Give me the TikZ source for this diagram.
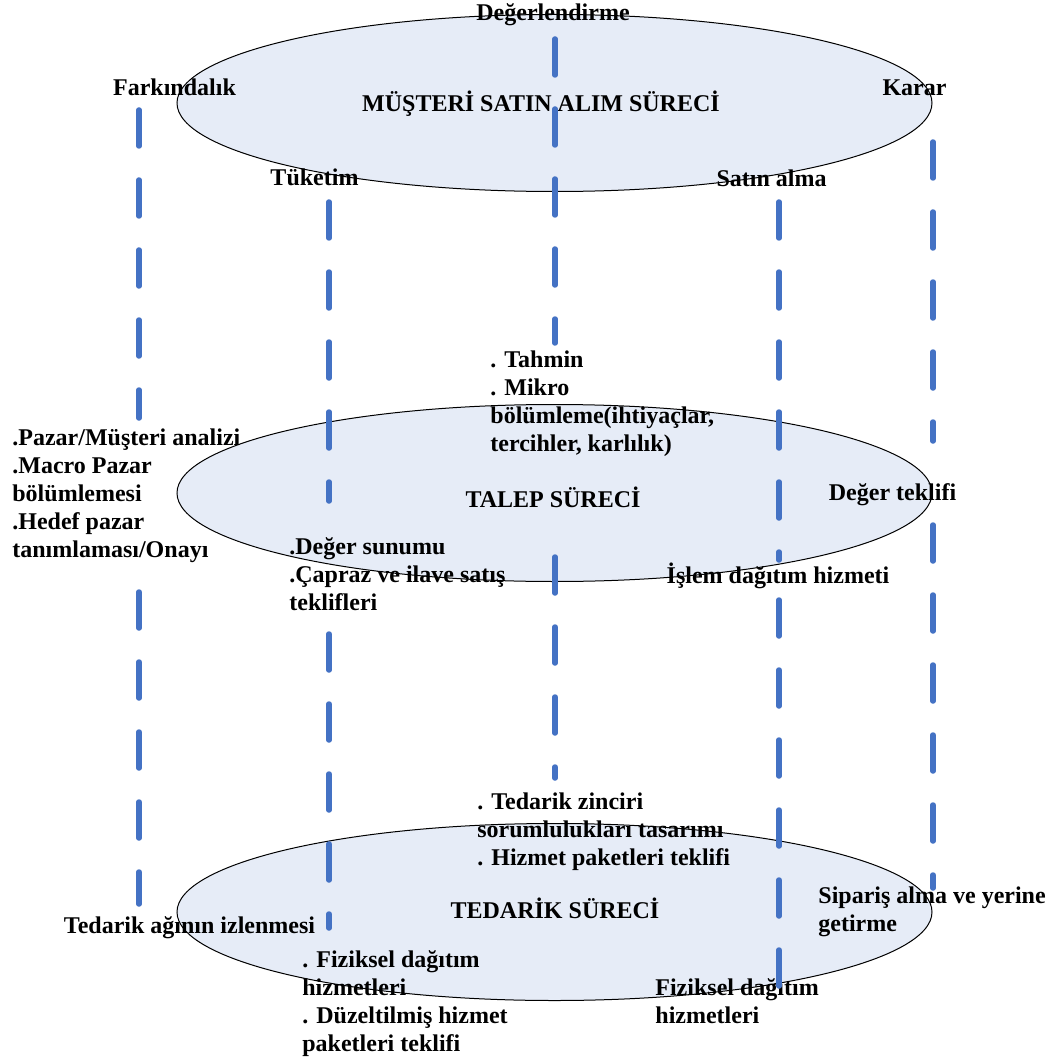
\documentclass[tikz,border=0pt]{standalone}
\usepackage{fontspec}
\setmainfont{Liberation Serif}
\usetikzlibrary{shapes.geometric}
\definecolor{procfill}{HTML}{E6ECF7}
\definecolor{linkblue}{HTML}{4472C4}
\begin{document}
\begin{tikzpicture}[x=0.5pt,y=-0.5pt,
  proc/.style={ellipse, draw=black, line width=0.5pt, fill=procfill,
    minimum width=377.5pt, minimum height=88.5pt, inner sep=0pt},
  lbl/.style={inner sep=0pt, font=\fontsize{12}{14}\selectfont\bfseries, anchor=base},
  blk/.style={inner sep=0pt, font=\fontsize{12}{14}\selectfont\bfseries,
    align=left, anchor=north west},
  link/.style={draw=linkblue, line width=2.75pt, line cap=round,
    dash pattern=on 18pt off 17pt}]
\useasboundingbox (0,0) rectangle (1049,1059);

% the three process ellipses
\node[proc] (musteri) at (554.5,103) {};
\node[proc] (talep)   at (554.5,493) {};
\node[proc] (tedarik) at (554.5,912) {};

% process titles
\node[lbl] (tmusteri) at (541,112) {MÜŞTERİ SATIN ALIM SÜRECİ};
\node[lbl] (ttalep)   at (553,507) {TALEP SÜRECİ};
\node[lbl] (ttedarik) at (555,918) {TEDARİK SÜRECİ};

% stage labels of the purchase process
\node[lbl] (deger)   at (553,21)    {Değerlendirme};
\node[lbl] (fark)    at (174.5,96)  {Farkındalık};
\node[lbl] (karar)   at (914.5,96)  {Karar};
\node[lbl] (tuketim) at (314.5,186) {Tüketim};
\node[lbl] (satin)   at (771.5,187) {Satın alma};

% demand process activities
\node[blk] (tahmin) at (490,347.4) {\strut. Tahmin\\. Mikro\\bölümleme(ihtiyaçlar,\\tercihler, karlılık)};
\node[blk] (pazar) at (12,425.4) {\strut.Pazar/Müşteri analizi\\.Macro Pazar\\bölümlemesi\\.Hedef pazar\\tanımlaması/Onayı};
\node[lbl] (teklif) at (892.5,500) {Değer teklifi};
\node[blk] (sunum) at (289,534.4) {\strut.Değer sunumu\\.Çapraz ve ilave satış\\teklifleri};
\node[lbl] (islem) at (778,583) {İşlem dağıtım hizmeti};

% supply process activities
\node[blk] (zincir) at (477,789.4) {\strut. Tedarik zinciri\\sorumlulukları tasarımı\\. Hizmet paketleri teklifi};
\node[blk] (siparis) at (818,883.4) {\strut Sipariş alma ve yerine\\getirme};
\node[lbl] (izleme) at (189.5,933) {Tedarik ağının izlenmesi};
\node[blk] (fizikA) at (302,947.4) {\strut. Fiziksel dağıtım\\hizmetleri\\. Düzeltilmiş hizmet\\paketleri teklifi};
\node[blk] (fizikB) at (655,975.4) {\strut Fiziksel dağıtım\\hizmetleri};

% end points of the dashed stage lines
\coordinate (a1) at (139,110); \coordinate (a2) at (139,418);
\coordinate (a3) at (139,592); \coordinate (a4) at (139,904);
\coordinate (b1) at (329,202); \coordinate (b2) at (329,501);
\coordinate (b3) at (329,634); \coordinate (b4) at (329,928);
\coordinate (c1) at (555,39);  \coordinate (c2) at (555,343);
\coordinate (c3) at (555,557); \coordinate (c4) at (555,778);
\coordinate (d1) at (779,202); \coordinate (d2) at (779,560);
\coordinate (d3) at (779,600); \coordinate (d4) at (779,988);
\coordinate (e1) at (933,142); \coordinate (e2) at (933,441);
\coordinate (e3) at (933,525); \coordinate (e4) at (933,888);

\draw[link] (a1) -- (a2); \draw[link] (a3) -- (a4);
\draw[link] (b1) -- (b2); \draw[link] (b3) -- (b4);
\draw[link] (c1) -- (c2); \draw[link] (c3) -- (c4);
\draw[link] (d1) -- (d2); \draw[link] (d3) -- (d4);
\draw[link] (e1) -- (e2); \draw[link] (e3) -- (e4);
\end{tikzpicture}
\end{document}
